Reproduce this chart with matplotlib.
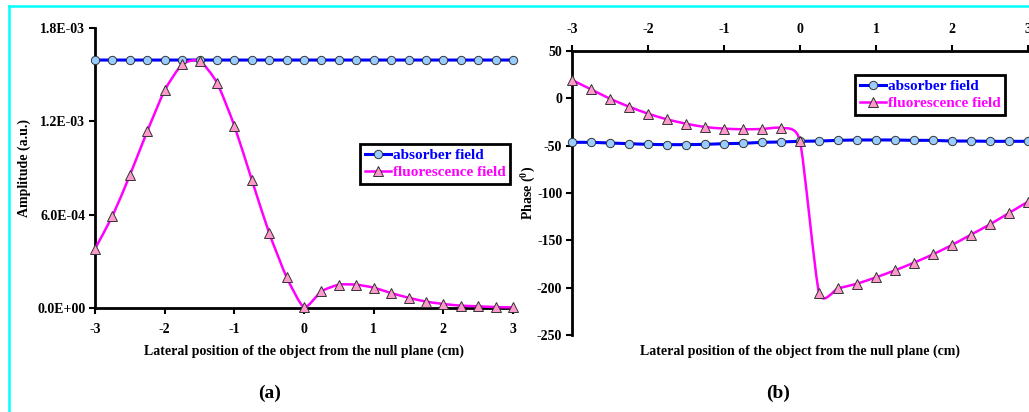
import numpy as np
import matplotlib.pyplot as plt
from matplotlib.path import Path
from matplotlib.patches import PathPatch
from matplotlib.lines import Line2D

# =========================
# DATA
# =========================

x_pos = [-3.0, -2.75, -2.5, -2.25, -2.0, -1.75, -1.5, -1.25, -1.0, -0.75, -0.5, -0.25,
         0.0, 0.25, 0.5, 0.75, 1.0, 1.25, 1.5, 1.75, 2.0, 2.25, 2.5, 2.75, 3.0]

# panel (a): amplitude (a.u.)
amp_absorber = [1.594e-3] * 25
amp_fluor = [0.381e-3, 0.591e-3, 0.853e-3, 1.136e-3, 1.399e-3, 1.566e-3, 1.590e-3,
             1.449e-3, 1.172e-3, 0.825e-3, 0.482e-3, 0.199e-3, 0.004e-3, 0.107e-3,
             0.150e-3, 0.150e-3, 0.131e-3, 0.096e-3, 0.066e-3, 0.041e-3, 0.026e-3,
             0.015e-3, 0.011e-3, 0.006e-3, 0.004e-3]

# panel (b): phase (deg)
phase_absorber = [-46.5, -46.5, -47.2, -47.9, -48.6, -48.9, -48.9, -48.6, -47.9, -47.5,
                  -46.5, -46.1, -45.4, -45.1, -44.4, -44.0, -44.0, -44.0, -44.4, -44.4,
                  -45.1, -45.1, -45.4, -45.4, -45.4]
phase_fluor = [19.4, 9.5, -0.4, -8.8, -16.2, -22.2, -26.8, -30.3, -32.0, -32.7, -32.4,
               -31.3, -45.1, -205.3, -200.7, -195.8, -189.1, -181.7, -173.6, -164.8,
               -154.9, -144.0, -133.1, -121.1, -109.2]

amp_ticks = [0, 6e-4, 1.2e-3, 1.8e-3]
amp_ticklabels = ["0.0E+00", "6.0E-04", "1.2E-03", "1.8E-03"]
phase_ticks = [-250, -200, -150, -100, -50, 0, 50]
x_ticks = [-3, -2, -1, 0, 1, 2, 3]

labels = ["absorber field", "fluorescence field"]
xlabel = "Lateral position of the object from the null plane (cm)"

# =========================
# STYLE
# =========================

plt.rcParams["font.family"] = ["Liberation Serif", "DejaVu Serif"]
plt.rcParams["font.weight"] = "bold"
plt.rcParams["axes.unicode_minus"] = False
plt.rcParams["mathtext.fontset"] = "custom"
plt.rcParams["mathtext.bf"] = "Liberation Serif:bold"
plt.rcParams["mathtext.rm"] = "Liberation Serif:bold"

blue = "#0000ff"
magenta = "#ff00ff"
circle_face = "#99ccff"
tri_face = "#ff99cc"
fs_tick = 10


def smooth_path(x, y, k=0.1):
    # Excel-like smoothed line: cubic bezier through the points
    x = np.asarray(x, float)
    y = np.asarray(y, float)
    p = np.column_stack([x, y])
    n = len(p)
    verts = [p[0]]
    codes = [Path.MOVETO]
    for i in range(n - 1):
        p0 = p[i - 1] if i > 0 else p[i]
        p1 = p[i]
        p2 = p[i + 1]
        p3 = p[i + 2] if i + 2 < n else p[i + 1]
        c1 = p1 + (p2 - p0) * k
        c2 = p2 - (p3 - p1) * k
        verts += [c1, c2, p2]
        codes += [Path.CURVE4] * 3
    return Path(verts, codes)


def draw_series(ax, x, y, color, marker, face, lw, ms):
    ax.add_patch(PathPatch(smooth_path(x, y), fill=False, edgecolor=color, lw=lw,
                           capstyle="round", joinstyle="round", zorder=3))
    ax.plot(x, y, linestyle="none", marker=marker, markersize=ms,
            markerfacecolor=face, markeredgecolor="#333333", markeredgewidth=0.7,
            zorder=4)


def add_legend(ax, anchor):
    handles = [
        Line2D([], [], color=blue, lw=2.2, marker="o", markersize=6,
               markerfacecolor=circle_face, markeredgecolor="#333333", markeredgewidth=0.7),
        Line2D([], [], color=magenta, lw=1.8, marker="^", markersize=6.5,
               markerfacecolor=tri_face, markeredgecolor="#333333", markeredgewidth=0.7),
    ]
    leg = ax.legend(handles, labels, loc="upper left", bbox_to_anchor=anchor,
                    borderaxespad=0, fancybox=False, framealpha=1, edgecolor="black",
                    prop={"family": "Liberation Serif", "weight": "bold", "size": 11},
                    handlelength=1.7, handletextpad=0.15, labelspacing=0.2,
                    borderpad=0.3)
    leg.get_frame().set_linewidth(2)
    leg.texts[0].set_color(blue)
    leg.texts[1].set_color(magenta)
    return leg


fig = plt.figure(figsize=(10.29, 4.12), dpi=100)

# =========================
# PANEL (a): AMPLITUDE
# =========================

ax1 = fig.add_axes([95 / 1029, 1 - 308 / 412, 418 / 1029, 280 / 412])
draw_series(ax1, x_pos, amp_absorber, blue, "o", circle_face, 2.2, 6)
draw_series(ax1, x_pos, amp_fluor, magenta, "^", tri_face, 1.8, 6.5)
ax1.set_xlim(-3, 3)
ax1.set_ylim(0, 1.8e-3)
ax1.set_xticks(x_ticks)
ax1.set_xticklabels([str(t) for t in x_ticks])
ax1.set_yticks(amp_ticks)
ax1.set_yticklabels(amp_ticklabels)
for s in ["top", "right"]:
    ax1.spines[s].set_visible(False)
for s in ["left", "bottom"]:
    ax1.spines[s].set_linewidth(2)
ax1.tick_params(axis="both", width=1.5, length=4, labelsize=fs_tick, direction="out")
ax1.tick_params(axis="x", pad=7)
ax1.tick_params(axis="y", pad=3)
for lab in ax1.get_xticklabels() + ax1.get_yticklabels():
    lab.set_fontweight("bold")
ax1.set_ylabel("Amplitude (a.u.)", fontsize=10, fontweight="bold", labelpad=4)
ax1.patch.set_alpha(0)
add_legend(ax1, (0.634, 0.585))

# =========================
# PANEL (b): PHASE
# =========================

ax2 = fig.add_axes([572 / 1029, 1 - 335 / 412, 456 / 1029, 284 / 412])
draw_series(ax2, x_pos, phase_absorber, blue, "o", circle_face, 2.2, 6)
draw_series(ax2, x_pos, phase_fluor, magenta, "^", tri_face, 1.8, 6.5)
ax2.set_xlim(-3, 3)
ax2.set_ylim(-250, 50)
ax2.xaxis.tick_top()
ax2.set_xticks(x_ticks)
ax2.set_xticklabels([str(t) for t in x_ticks])
ax2.set_yticks(phase_ticks)
ax2.set_yticklabels([str(t) for t in phase_ticks])
for s in ["bottom", "right"]:
    ax2.spines[s].set_visible(False)
for s in ["left", "top"]:
    ax2.spines[s].set_linewidth(2)
ax2.tick_params(axis="both", width=1.5, length=4, labelsize=fs_tick, direction="out")
ax2.tick_params(axis="x", pad=7)
ax2.tick_params(axis="y", pad=3)
for lab in ax2.get_xticklabels() + ax2.get_yticklabels():
    lab.set_fontweight("bold")
ax2.set_ylabel(r"Phase ($^{\mathbf{0}}$)", fontsize=10, fontweight="bold", labelpad=0)
ax2.patch.set_alpha(0)
add_legend(ax2, (0.621, 0.915))

# markers at the edges are not clipped
for ax in [ax1, ax2]:
    for art in ax.lines + ax.patches:
        art.set_clip_on(False)

# =========================
# TEXT AND FRAME
# =========================

fig.text(304 / 1029, 1 - 351 / 412, xlabel, ha="center", va="center", fontsize=10,
         fontweight="bold")
fig.text(800 / 1029, 1 - 351 / 412, xlabel, ha="center", va="center", fontsize=10,
         fontweight="bold")
fig.text(270 / 1029, 1 - 393 / 412, "(a)", ha="center", va="center", fontsize=14,
         fontweight="bold")
fig.text(778 / 1029, 1 - 393 / 412, "(b)", ha="center", va="center", fontsize=14,
         fontweight="bold")

cyan = "#00ffff"
fig.add_artist(Line2D([8.5 / 1029, 8.5 / 1029], [0, 1 - 6 / 412], color=cyan, lw=1.8,
                      transform=fig.transFigure))
fig.add_artist(Line2D([8.5 / 1029, 1], [1 - 6 / 412, 1 - 6 / 412], color=cyan, lw=1.8,
                      transform=fig.transFigure))

fig.savefig("out.png", dpi=100)
